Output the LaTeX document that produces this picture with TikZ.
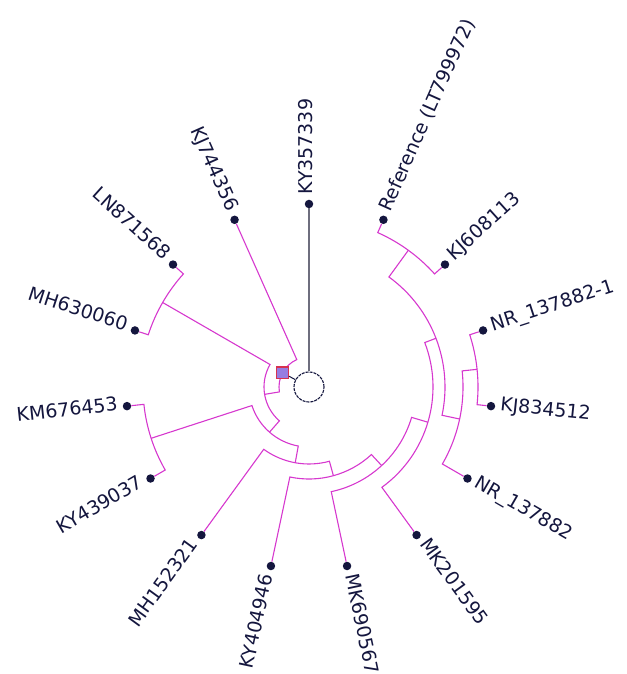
\documentclass[tikz,border=0pt]{standalone}
\usepackage{fontspec}
\setmainfont{DejaVu Sans}
\definecolor{branchpink}{RGB}{214,56,206}
\definecolor{tipnavy}{RGB}{20,22,62}
\definecolor{rootgray}{RGB}{110,110,126}
\definecolor{markfill}{RGB}{150,125,225}
\definecolor{markred}{RGB}{215,50,80}

\begin{document}
\begin{tikzpicture}[x=1pt,y=1pt,
    every node/.style={font=\fontsize{19}{22}\selectfont,text=tipnavy},
    br/.style={branchpink,line width=1.1pt},
    tipdot/.style={circle,fill=tipnavy,inner sep=0pt,minimum size=8.5pt},
    tiplab/.style={inner sep=0pt,text height=0.73em,text depth=0pt}]
  \useasboundingbox (-309,-287) rectangle (317,387);
  \def\rt{183}\def\rl{192}
  % tips on the right read outward, tips on the left read inward
  \foreach \nm/\a/\txt in {ky357/90/KY357339, ref/66/Reference (LT799972), kj608/42/KJ608113,
      nr1/18/NR\_137882-1, kj834/-6/KJ834512, nr0/-30/NR\_137882, mk201/-54/MK201595, mk690/-78/MK690567}{
    \node[tipdot] (\nm) at (\a:\rt) {};
    \node[tiplab,anchor=west,rotate=\a] (\nm-l) at (\a:\rl) {\txt};
  }
  \foreach \nm/\a/\txt in {kj744/114/KJ744356, ln871/138/LN871568, mh630/162/MH630060, km676/186/KM676453,
      ky439/210/KY439037, mh152/234/MH152321, ky404/258/KY404946}{
    \node[tipdot] (\nm) at (\a:\rt) {};
    \node[tiplab,anchor=east,rotate=\a-180] (\nm-l) at (\a:\rl) {\txt};
  }
  % internal nodes (angle:radius)
  \coordinate (cA) at (414:169);     \coordinate (cN1) at (366:169);
  \coordinate (cN2) at (348:154);    \coordinate (cN4) at (381:136);
  \coordinate (cP) at (343.5:124);   \coordinate (cU) at (312.75:107);
  \coordinate (cV) at (285.375:92);  \coordinate (cW) at (259.6875:77);
  \coordinate (cKK) at (198:166);    \coordinate (cQ) at (228.84:60);
  \coordinate (cLM) at (150:169);    \coordinate (cY) at (189.42:45);
  \coordinate (cX) at (151.71:30);
  % each clade: parent radius, first child, second child
  \foreach \rr/\ca/\aa/\cb/\ab in {169/kj608/402/ref/426, 169/kj834/354/nr1/378, 154/nr0/330/cN1/366,
      136/cN2/348/cA/414, 124/mk201/306/cN4/381, 107/mk690/282/cP/343.5, 92/ky404/258/cU/312.75,
      77/mh152/234/cV/285.375, 166/km676/186/ky439/210, 60/cKK/198/cW/259.6875,
      169/ln871/138/mh630/162, 45/cLM/150/cQ/228.84, 30/kj744/114/cY/189.42}{
    \coordinate (\ca-f) at (\aa:\rr);
    \draw[br] (\ca) -- (\ca-f) arc[start angle=\aa,end angle=\ab,radius=\rr pt] -- (\cb);
  }
  \node[circle,draw=tipnavy,dash pattern=on 3pt off 1pt,line width=1.1pt,
    minimum size=30pt,inner sep=0pt] (root) at (0,0) {};
  \draw[rootgray,line width=1.5pt] (root) -- (ky357);
  \node[draw=markred,fill=markfill,line width=1.2pt,minimum size=11.5pt,inner sep=0pt] (sel) at (cX) {};
  \draw[tipnavy,line width=1pt] (root) -- (sel);
\end{tikzpicture}
\end{document}
